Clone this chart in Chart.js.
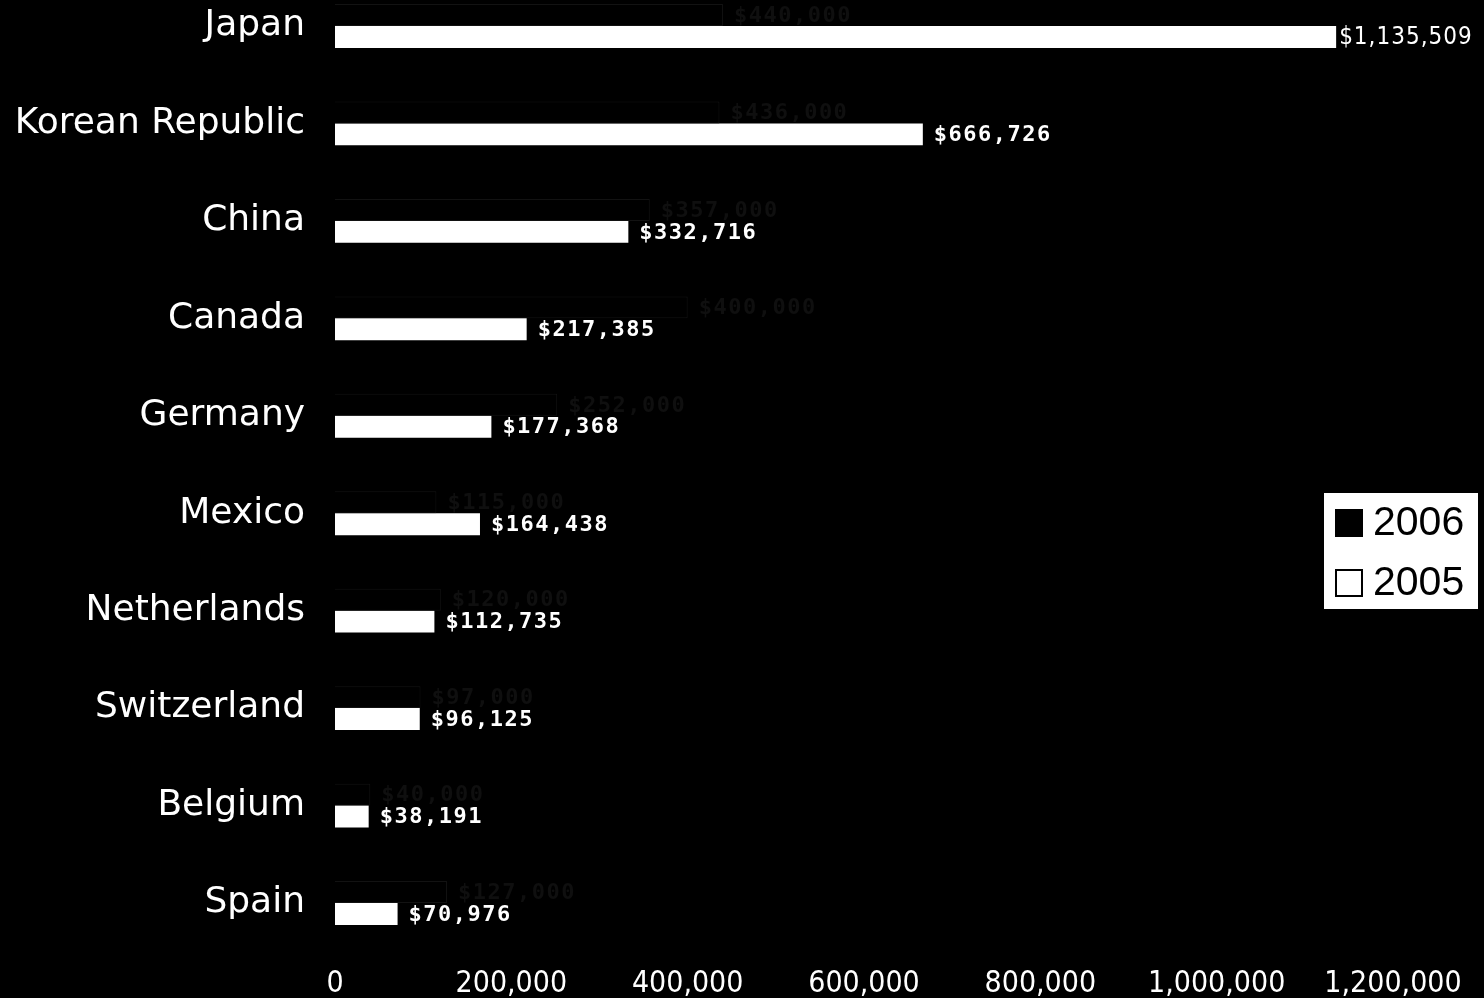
<!DOCTYPE html>
<html>
<head>
<meta charset="utf-8">
<title>Trade by country, 2005–2006</title>
<script src="https://cdn.jsdelivr.net/npm/chart.js@4/dist/chart.umd.min.js"></script>
<style>
  html, body { margin: 0; padding: 0; background: #000; }
  #wrap { width: 1484px; height: 998px; position: relative; background: #000; }
</style>
</head>
<body>
<div id="wrap"><canvas id="c"></canvas></div>
<script>
// Countries, top to bottom
const categories = ['Japan', 'Korean Republic', 'China', 'Canada', 'Germany', 'Mexico',
                    'Netherlands', 'Switzerland', 'Belgium', 'Spain'];
// 2006 values (dark bars)
const values2006 = [440000, 436000, 357000, 400000, 252000, 115000, 120000, 97000, 40000, 127000];
// 2005 values (white bars, labelled)
const values2005 = [1135509, 666726, 332716, 217385, 177368, 164438, 112735, 96125, 38191, 70976];
// Value axis ticks
const xTicks = [0, 200000, 400000, 600000, 800000, 1000000, 1200000];
const seriesNames = ['2006', '2005'];

const fmt = v => v.toLocaleString('en-US');

// Black page background
const bgPlugin = {
  id: 'bg',
  beforeDraw(chart) {
    const ctx = chart.ctx;
    ctx.save();
    ctx.fillStyle = '#000';
    ctx.fillRect(0, 0, chart.width, chart.height);
    ctx.restore();
  }
};

// "$" value labels at the end of each bar
const valueLabels = {
  id: 'valueLabels',
  afterDatasetsDraw(chart) {
    const ctx = chart.ctx;
    ctx.save();
    ctx.textBaseline = 'middle';
    ctx.textAlign = 'left';
    chart.data.datasets.forEach((ds, di) => {
      const meta = chart.getDatasetMeta(di);
      meta.data.forEach((bar, i) => {
        const text = '$' + fmt(ds.data[i]);
        ctx.fillStyle = ds.labelColor;
        ctx.font = 'bold 22px "DejaVu Sans Mono", monospace';
        ctx.letterSpacing = '1.5px';
        let x = bar.x + 11;
        const w = ctx.measureText(text).width;
        if (x + w > chart.width - 4) {
          // long labels near the right edge use a condensed face
          ctx.font = '24px "DejaVu Sans Condensed", "Liberation Sans Narrow", sans-serif';
          ctx.letterSpacing = '1px';
          x = bar.x + 3;
        }
        ctx.fillText(text, x, bar.y + 1);
      });
    });
    ctx.restore();
  }
};

// Boxed legend drawn inside the plot, right side
const boxLegend = {
  id: 'boxLegend',
  afterDraw(chart) {
    const ctx = chart.ctx;
    const x = chart.width - 160, y = 493, w = 154, h = 116;
    ctx.save();
    ctx.fillStyle = '#fff';
    ctx.fillRect(x, y, w, h);
    ctx.font = '41px "Liberation Sans", Arial, sans-serif';
    ctx.textBaseline = 'middle';
    ctx.textAlign = 'left';
    chart.data.datasets.forEach((ds, i) => {
      const cy = y + 30 + i * 60;
      ctx.fillStyle = ds.legendFill;
      ctx.fillRect(x + 12, cy - 13, 26, 26);
      ctx.strokeStyle = '#000';
      ctx.lineWidth = 2;
      ctx.strokeRect(x + 12, cy - 13, 26, 26);
      ctx.fillStyle = '#000';
      ctx.fillText(ds.label, x + 49, cy + 1);
    });
    ctx.restore();
  }
};

new Chart(document.getElementById('c'), {
  type: 'bar',
  data: {
    labels: categories,
    datasets: [
      {
        label: seriesNames[0],
        data: values2006,
        backgroundColor: '#000',
        borderColor: '#121212',
        borderWidth: 1,
        labelColor: '#0f0f0f',
        legendFill: '#000',
        clip: false
      },
      {
        label: seriesNames[1],
        data: values2005,
        backgroundColor: '#fff',
        borderWidth: 0,
        labelColor: '#fff',
        legendFill: '#fff',
        clip: false
      }
    ]
  },
  options: {
    indexAxis: 'y',
    responsive: true,
    maintainAspectRatio: false,
    animation: false,
    layout: { padding: { top: 26, right: 91, bottom: 0, left: 0 } },
    datasets: { bar: { categoryPercentage: 0.45, barPercentage: 1.0 } },
    plugins: { legend: { display: false }, tooltip: { enabled: false } },
    scales: {
      x: {
        min: 0,
        max: 1200000,
        afterBuildTicks(scale) { scale.ticks = xTicks.map(v => ({ value: v })); },
        afterFit(scale) {
          scale.height = 95;
          scale.paddingLeft = 0;
          scale.paddingRight = 0;
        },
        grid: { display: false, drawTicks: false },
        border: { display: false },
        ticks: {
          color: '#fff',
          padding: 63,
          maxRotation: 0,
          autoSkip: false,
          font: { family: '"DejaVu Sans Condensed", "Liberation Sans Narrow", sans-serif', size: 30 },
          callback: v => fmt(v)
        }
      },
      y: {
        offset: false,
        afterFit(scale) {
          scale.width = 335;
          scale.paddingTop = 0;
          scale.paddingBottom = 0;
        },
        grid: { display: false, drawTicks: false },
        border: { display: false },
        ticks: {
          color: '#fff',
          padding: 30,
          autoSkip: false,
          font: { family: '"DejaVu Sans", Verdana, sans-serif', size: 36 }
        }
      }
    }
  },
  plugins: [bgPlugin, valueLabels, boxLegend]
});
</script>
</body>
</html>
